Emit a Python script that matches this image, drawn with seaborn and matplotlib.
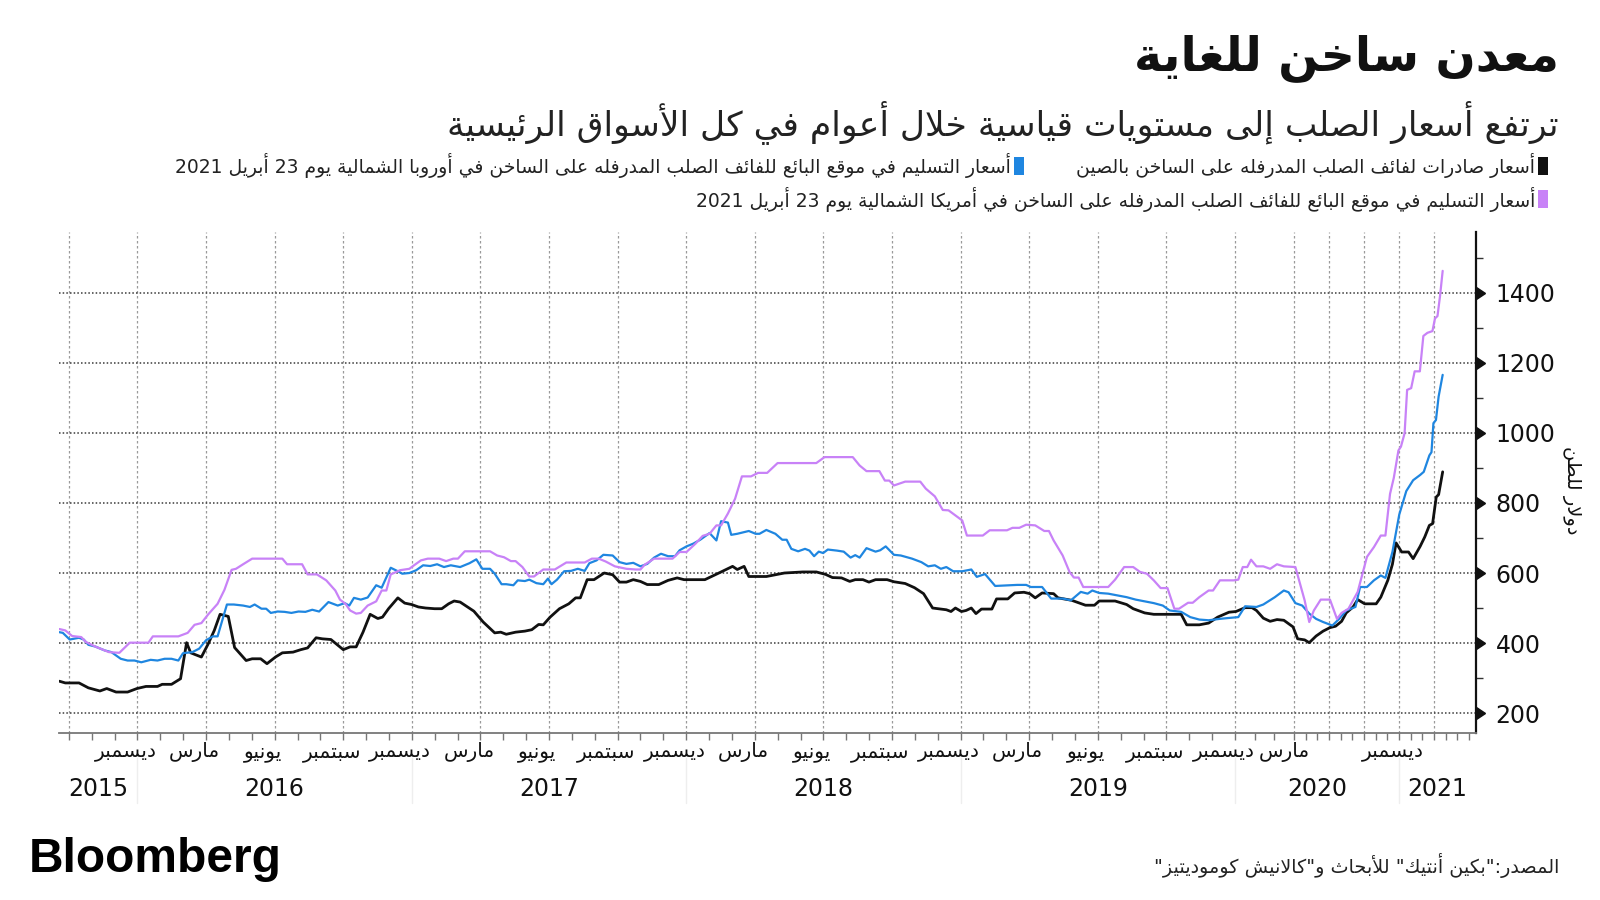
import re
import numpy as np
import matplotlib
matplotlib.use("Agg")
import matplotlib.pyplot as plt
from matplotlib.patches import Rectangle
from matplotlib.ticker import FixedLocator, NullFormatter
import seaborn as sns

# ---------------- data (USD per tonne, x in decimal years) ----------------
black_year = [2015.715, 2015.737, 2015.787, 2015.821, 2015.863, 2015.888, 2015.922, 2015.964, 2015.998, 2016.031,
              2016.073, 2016.090, 2016.124, 2016.157, 2016.179, 2016.194, 2016.233, 2016.258, 2016.280, 2016.301,
              2016.331, 2016.354, 2016.396, 2016.418, 2016.449, 2016.472, 2016.503, 2016.528, 2016.567, 2016.595,
              2016.620, 2016.651, 2016.674, 2016.705, 2016.750, 2016.775, 2016.797, 2016.822, 2016.848, 2016.876,
              2016.893, 2016.915, 2016.949, 2016.974, 2016.999, 2017.024, 2017.050, 2017.083, 2017.109, 2017.134,
              2017.154, 2017.176, 2017.226, 2017.260, 2017.302, 2017.324, 2017.344, 2017.378, 2017.412, 2017.437,
              2017.462, 2017.479, 2017.504, 2017.538, 2017.572, 2017.597, 2017.614, 2017.639, 2017.664, 2017.701,
              2017.732, 2017.757, 2017.782, 2017.807, 2017.833, 2017.858, 2017.900, 2017.934, 2017.967, 2017.992,
              2018.068, 2018.119, 2018.169, 2018.186, 2018.211, 2018.228, 2018.292, 2018.325, 2018.358, 2018.425,
              2018.474, 2018.508, 2018.533, 2018.566, 2018.596, 2018.616, 2018.644, 2018.666, 2018.690, 2018.732,
              2018.757, 2018.798, 2018.832, 2018.865, 2018.898, 2018.948, 2018.965, 2018.981, 2019.003, 2019.020,
              2019.039, 2019.056, 2019.076, 2019.114, 2019.131, 2019.172, 2019.197, 2019.231, 2019.252, 2019.272,
              2019.297, 2019.339, 2019.355, 2019.405, 2019.455, 2019.488, 2019.505, 2019.563, 2019.605, 2019.629,
              2019.671, 2019.704, 2019.804, 2019.824, 2019.870, 2019.904, 2019.937, 2019.978, 2020.004, 2020.043,
              2020.072, 2020.091, 2020.120, 2020.149, 2020.178, 2020.207, 2020.246, 2020.276, 2020.326, 2020.359,
              2020.408, 2020.458, 2020.507, 2020.547, 2020.590, 2020.623, 2020.672, 2020.705, 2020.755, 2020.837,
              2020.870, 2020.920, 2020.953, 2020.979, 2021.019, 2021.068, 2021.101, 2021.151, 2021.184, 2021.217,
              2021.240, 2021.266, 2021.283, 2021.312]
black_usd = [291, 286, 286, 272, 263, 270, 260, 260, 270, 276,
             276, 282, 282, 298, 401, 372, 360, 398, 436, 482,
             476, 387, 350, 355, 355, 341, 360, 372, 374, 381,
             386, 415, 412, 410, 381, 389, 389, 431, 482, 470,
             474, 498, 529, 514, 510, 503, 500, 498, 498, 512,
             520, 517, 491, 460, 429, 431, 425, 431, 434, 438,
             453, 452, 474, 498, 512, 529, 529, 581, 581, 600,
             595, 574, 574, 581, 576, 567, 567, 579, 586, 581,
             581, 600, 619, 610, 619, 590, 590, 595, 600, 603,
             603, 596, 587, 586, 576, 581, 581, 574, 581, 581,
             575, 570, 558, 541, 500, 495, 490, 500, 490, 493,
             500, 484, 497, 497, 526, 526, 543, 545, 541, 529,
             543, 541, 529, 522, 508, 508, 520, 520, 510, 498,
             486, 482, 482, 452, 452, 457, 474, 488, 490, 501,
             501, 493, 471, 462, 467, 465, 446, 412, 409, 401,
             420, 434, 444, 448, 462, 486, 503, 524, 512, 512,
             531, 579, 625, 686, 660, 660, 641, 676, 703, 736,
             741, 817, 824, 889]

blue_year = [2015.715, 2015.728, 2015.753, 2015.787, 2015.804, 2015.821, 2015.846, 2015.880, 2015.905, 2015.939,
             2015.964, 2015.989, 2016.014, 2016.048, 2016.073, 2016.099, 2016.124, 2016.149, 2016.166, 2016.200,
             2016.225, 2016.250, 2016.275, 2016.292, 2016.309, 2016.326, 2016.351, 2016.385, 2016.410, 2016.427,
             2016.452, 2016.469, 2016.486, 2016.511, 2016.536, 2016.561, 2016.587, 2016.612, 2016.637, 2016.662,
             2016.696, 2016.730, 2016.755, 2016.772, 2016.789, 2016.814, 2016.839, 2016.870, 2016.890, 2016.923,
             2016.949, 2016.965, 2016.991, 2017.016, 2017.041, 2017.067, 2017.092, 2017.117, 2017.142, 2017.176,
             2017.210, 2017.235, 2017.257, 2017.285, 2017.302, 2017.327, 2017.344, 2017.370, 2017.386, 2017.412,
             2017.428, 2017.454, 2017.479, 2017.496, 2017.509, 2017.529, 2017.555, 2017.580, 2017.605, 2017.630,
             2017.647, 2017.673, 2017.698, 2017.732, 2017.757, 2017.782, 2017.807, 2017.833, 2017.858, 2017.883,
             2017.908, 2017.934, 2017.959, 2017.976, 2018.001, 2018.026, 2018.051, 2018.085, 2018.110, 2018.127,
             2018.152, 2018.164, 2018.186, 2018.228, 2018.253, 2018.267, 2018.292, 2018.325, 2018.350, 2018.366,
             2018.383, 2018.408, 2018.433, 2018.449, 2018.466, 2018.483, 2018.499, 2018.516, 2018.549, 2018.574,
             2018.599, 2018.616, 2018.632, 2018.657, 2018.690, 2018.707, 2018.727, 2018.757, 2018.782, 2018.823,
             2018.857, 2018.882, 2018.906, 2018.928, 2018.948, 2018.973, 2019.006, 2019.039, 2019.059, 2019.089,
             2019.126, 2019.206, 2019.239, 2019.256, 2019.297, 2019.330, 2019.372, 2019.402, 2019.438, 2019.463,
             2019.480, 2019.505, 2019.538, 2019.571, 2019.605, 2019.638, 2019.671, 2019.704, 2019.737, 2019.762,
             2019.804, 2019.837, 2019.870, 2019.904, 2019.945, 2019.970, 2020.014, 2020.043, 2020.091, 2020.120,
             2020.169, 2020.207, 2020.227, 2020.260, 2020.309, 2020.359, 2020.408, 2020.458, 2020.524, 2020.573,
             2020.623, 2020.689, 2020.722, 2020.771, 2020.821, 2020.870, 2020.903, 2020.953, 2021.002, 2021.052,
             2021.101, 2021.151, 2021.177, 2021.217, 2021.232, 2021.246, 2021.264, 2021.283, 2021.312]
blue_usd = [431, 429, 410, 415, 410, 395, 390, 379, 374, 355,
            350, 350, 345, 352, 350, 355, 355, 350, 371, 374,
            384, 408, 419, 419, 465, 510, 510, 507, 503, 510,
            498, 498, 486, 490, 489, 486, 490, 489, 495, 490,
            517, 507, 514, 507, 529, 524, 530, 565, 558, 615,
            605, 598, 600, 608, 622, 620, 625, 617, 622, 617,
            628, 639, 612, 612, 598, 568, 568, 565, 579, 577,
            581, 571, 568, 584, 568, 581, 605, 606, 612, 606,
            628, 636, 652, 650, 631, 626, 629, 619, 626, 644,
            655, 648, 648, 665, 676, 684, 695, 714, 693, 748,
            744, 709, 712, 720, 712, 712, 723, 712, 695, 695,
            669, 662, 669, 664, 648, 661, 657, 667, 664, 661,
            644, 651, 644, 671, 661, 665, 676, 652, 650, 641,
            631, 619, 622, 612, 617, 605, 605, 610, 589, 597,
            563, 566, 566, 560, 560, 527, 527, 522, 546, 541,
            550, 543, 541, 536, 531, 524, 519, 514, 507, 493,
            489, 474, 467, 465, 469, 471, 474, 505, 503, 510,
            531, 550, 545, 514, 507, 484, 469, 460, 450, 469,
            493, 503, 560, 560, 579, 593, 586, 660, 767, 834,
            865, 880, 889, 936, 945, 1028, 1037, 1104, 1166]

purple_year = [2015.715, 2015.737, 2015.762, 2015.795, 2015.812, 2015.846, 2015.896, 2015.934, 2015.972, 2016.040,
               2016.056, 2016.149, 2016.183, 2016.208, 2016.233, 2016.258, 2016.292, 2016.317, 2016.343, 2016.359,
               2016.385, 2016.418, 2016.528, 2016.545, 2016.600, 2016.620, 2016.654, 2016.688, 2016.721, 2016.738,
               2016.758, 2016.775, 2016.797, 2016.814, 2016.839, 2016.870, 2016.890, 2016.907, 2016.923, 2016.957,
               2016.991, 2017.008, 2017.033, 2017.058, 2017.100, 2017.125, 2017.151, 2017.168, 2017.193, 2017.285,
               2017.311, 2017.336, 2017.361, 2017.378, 2017.403, 2017.428, 2017.445, 2017.479, 2017.521, 2017.563,
               2017.630, 2017.656, 2017.681, 2017.706, 2017.740, 2017.782, 2017.816, 2017.833, 2017.849, 2017.883,
               2017.950, 2017.976, 2018.001, 2018.034, 2018.060, 2018.085, 2018.110, 2018.127, 2018.152, 2018.178,
               2018.203, 2018.236, 2018.262, 2018.295, 2018.333, 2018.474, 2018.504, 2018.607, 2018.632, 2018.657,
               2018.704, 2018.724, 2018.740, 2018.757, 2018.798, 2018.853, 2018.873, 2018.906, 2018.935, 2018.956,
               2019.006, 2019.023, 2019.081, 2019.106, 2019.169, 2019.189, 2019.214, 2019.239, 2019.272, 2019.305,
               2019.322, 2019.339, 2019.372, 2019.397, 2019.413, 2019.430, 2019.447, 2019.538, 2019.563, 2019.596,
               2019.629, 2019.654, 2019.679, 2019.704, 2019.729, 2019.754, 2019.779, 2019.796, 2019.829, 2019.846,
               2019.870, 2019.904, 2019.920, 2019.945, 2019.995, 2020.014, 2020.033, 2020.052, 2020.068, 2020.091,
               2020.120, 2020.149, 2020.178, 2020.207, 2020.260, 2020.293, 2020.326, 2020.359, 2020.392, 2020.441,
               2020.507, 2020.557, 2020.590, 2020.639, 2020.705, 2020.771, 2020.821, 2020.870, 2020.903, 2020.936,
               2020.963, 2020.996, 2021.014, 2021.040, 2021.058, 2021.087, 2021.112, 2021.149, 2021.174, 2021.203,
               2021.239, 2021.257, 2021.275, 2021.293, 2021.312]
purple_usd = [440, 436, 420, 417, 403, 390, 374, 372, 401, 401,
              419, 419, 429, 452, 457, 482, 512, 552, 609, 612,
              625, 641, 641, 625, 625, 596, 596, 579, 550, 524,
              512, 493, 484, 486, 507, 519, 550, 550, 596, 608,
              612, 622, 636, 641, 641, 634, 641, 641, 662, 662,
              650, 645, 634, 634, 617, 590, 590, 610, 610, 630,
              630, 641, 641, 633, 619, 612, 610, 610, 624, 641,
              641, 660, 660, 684, 706, 712, 736, 736, 770, 812,
              876, 876, 886, 886, 914, 914, 931, 931, 907, 891,
              891, 864, 864, 850, 861, 861, 841, 819, 780, 779,
              750, 707, 707, 722, 722, 729, 729, 738, 736, 720,
              720, 693, 650, 603, 587, 587, 560, 560, 581, 617,
              617, 603, 598, 579, 557, 557, 498, 498, 515, 515,
              531, 550, 550, 579, 579, 581, 617, 617, 638, 619,
              619, 612, 625, 619, 617, 570, 522, 460, 493, 524,
              524, 469, 486, 498, 546, 646, 674, 707, 707, 826,
              872, 950, 961, 999, 1123, 1128, 1176, 1176, 1277, 1286,
              1291, 1327, 1334, 1391, 1463]

series_labels = [
    "أسعار صادرات لفائف الصلب المدرفله على الساخن بالصين",
    "أسعار التسليم في موقع البائع للفائف الصلب المدرفله على الساخن في أوروبا الشمالية يوم 23 أبريل 2021",
    "أسعار التسليم في موقع البائع للفائف الصلب المدرفله على الساخن في أمريكا الشمالية يوم 23 أبريل 2021",
]
series_colors = ["#111111", "#1f86e0", "#c882f7"]

y_ticks = [200, 400, 600, 800, 1000, 1200, 1400]
month_label_pos = [2015.958, 2016.208, 2016.458, 2016.708, 2016.958, 2017.208, 2017.458, 2017.708, 2017.958,
                   2018.208, 2018.458, 2018.708, 2018.958, 2019.208, 2019.458, 2019.708, 2019.958, 2020.208, 2020.958]
month_label_txt = ["ديسمبر", "مارس", "يونيو", "سبتمبر", "ديسمبر", "مارس", "يونيو", "سبتمبر", "ديسمبر",
                   "مارس", "يونيو", "سبتمبر", "ديسمبر", "مارس", "يونيو", "سبتمبر", "ديسمبر", "مارس", "ديسمبر"]
year_labels = [2015, 2016, 2017, 2018, 2019, 2020, 2021]

title_txt = "معدن ساخن للغاية"
subtitle_txt = "ترتفع أسعار الصلب إلى مستويات قياسية خلال أعوام في كل الأسواق الرئيسية"
ylabel_txt = "دولار للطن"
source_txt = 'المصدر:"بكين أنتيك" للأبحاث و"كالانيش كوموديتيز"'

# ---------------- minimal Arabic shaping (matplotlib has no RTL shaping) ----------------
FORMS = {
    '\u0621': ('\uFE80', None, None, None), '\u0622': ('\uFE81', '\uFE82', None, None),
    '\u0623': ('\uFE83', '\uFE84', None, None), '\u0624': ('\uFE85', '\uFE86', None, None),
    '\u0625': ('\uFE87', '\uFE88', None, None), '\u0626': ('\uFE89', '\uFE8A', '\uFE8B', '\uFE8C'),
    '\u0627': ('\uFE8D', '\uFE8E', None, None), '\u0628': ('\uFE8F', '\uFE90', '\uFE91', '\uFE92'),
    '\u0629': ('\uFE93', '\uFE94', None, None), '\u062A': ('\uFE95', '\uFE96', '\uFE97', '\uFE98'),
    '\u062B': ('\uFE99', '\uFE9A', '\uFE9B', '\uFE9C'), '\u062C': ('\uFE9D', '\uFE9E', '\uFE9F', '\uFEA0'),
    '\u062D': ('\uFEA1', '\uFEA2', '\uFEA3', '\uFEA4'), '\u062E': ('\uFEA5', '\uFEA6', '\uFEA7', '\uFEA8'),
    '\u062F': ('\uFEA9', '\uFEAA', None, None), '\u0630': ('\uFEAB', '\uFEAC', None, None),
    '\u0631': ('\uFEAD', '\uFEAE', None, None), '\u0632': ('\uFEAF', '\uFEB0', None, None),
    '\u0633': ('\uFEB1', '\uFEB2', '\uFEB3', '\uFEB4'), '\u0634': ('\uFEB5', '\uFEB6', '\uFEB7', '\uFEB8'),
    '\u0635': ('\uFEB9', '\uFEBA', '\uFEBB', '\uFEBC'), '\u0636': ('\uFEBD', '\uFEBE', '\uFEBF', '\uFEC0'),
    '\u0637': ('\uFEC1', '\uFEC2', '\uFEC3', '\uFEC4'), '\u0638': ('\uFEC5', '\uFEC6', '\uFEC7', '\uFEC8'),
    '\u0639': ('\uFEC9', '\uFECA', '\uFECB', '\uFECC'), '\u063A': ('\uFECD', '\uFECE', '\uFECF', '\uFED0'),
    '\u0641': ('\uFED1', '\uFED2', '\uFED3', '\uFED4'), '\u0642': ('\uFED5', '\uFED6', '\uFED7', '\uFED8'),
    '\u0643': ('\uFED9', '\uFEDA', '\uFEDB', '\uFEDC'), '\u0644': ('\uFEDD', '\uFEDE', '\uFEDF', '\uFEE0'),
    '\u0645': ('\uFEE1', '\uFEE2', '\uFEE3', '\uFEE4'), '\u0646': ('\uFEE5', '\uFEE6', '\uFEE7', '\uFEE8'),
    '\u0647': ('\uFEE9', '\uFEEA', '\uFEEB', '\uFEEC'), '\u0648': ('\uFEED', '\uFEEE', None, None),
    '\u0649': ('\uFEEF', '\uFEF0', None, None), '\u064A': ('\uFEF1', '\uFEF2', '\uFEF3', '\uFEF4'),
}
LAM_ALEF = {'\u0622': ('\uFEF5', '\uFEF6'), '\u0623': ('\uFEF7', '\uFEF8'),
            '\u0625': ('\uFEF9', '\uFEFA'), '\u0627': ('\uFEFB', '\uFEFC')}


def _shape(text):
    units, i = [], 0
    while i < len(text):
        c = text[i]
        if c == '\u0644' and i + 1 < len(text) and text[i + 1] in LAM_ALEF:
            units.append(('LA', text[i + 1]))
            i += 2
        else:
            units.append(('C', c))
            i += 1

    def joins_prev(u):
        if u[0] == 'LA':
            return True
        f = FORMS.get(u[1])
        return f is not None and f[1] is not None

    def joins_next(u):
        if u[0] == 'LA':
            return False
        f = FORMS.get(u[1])
        return f is not None and f[2] is not None

    out = []
    for k, u in enumerate(units):
        pj = k > 0 and joins_next(units[k - 1]) and joins_prev(u)
        nj = k + 1 < len(units) and joins_next(u) and joins_prev(units[k + 1])
        if u[0] == 'LA':
            iso, fin = LAM_ALEF[u[1]]
            out.append(fin if pj else iso)
            continue
        f = FORMS.get(u[1])
        if f is None:
            out.append(u[1])
        elif pj and nj:
            out.append(f[3])
        elif pj:
            out.append(f[1])
        elif nj:
            out.append(f[2])
        else:
            out.append(f[0])
    return ''.join(out)


def ar(text):
    rev = _shape(text)[::-1]
    return re.sub(r'[0-9A-Za-z]+', lambda m: m.group(0)[::-1], rev)


# ---------------- figure ----------------
sns.set_style("white")
plt.rcParams['font.family'] = ['DejaVu Sans']

fig = plt.figure(figsize=(16, 9), dpi=100)
fig.patch.set_facecolor("white")
ax = fig.add_axes([59 / 1600, 1 - 733 / 900, (1476 - 59) / 1600, (733 - 232) / 900])

for yr, val, col in zip([black_year, blue_year, purple_year], [black_usd, blue_usd, purple_usd], series_colors):
    sns.lineplot(x=yr, y=val, ax=ax, color=col, lw=2.0 if col == "#111111" else 1.6,
                 estimator=None, sort=False, zorder=3)

# irregular time axis used by the original chart (last year compressed)
BRK_YEAR = np.array([2015.0, 2020.0, 2020.25, 2022.0])
BRK_POS = np.array([-136.8, 1235.0, 1294.0, 1539.0])


def fwd(v):
    return np.interp(v, BRK_YEAR, BRK_POS)


def inv(p):
    return np.interp(p, BRK_POS, BRK_YEAR)


ax.set_xscale('function', functions=(fwd, inv))
x_lo, x_hi = 2015.714, 2021.55
ax.set_xlim(x_lo, x_hi)
ax.set_ylim(143, 1574)

quarters = [2015.75 + 0.25 * k for k in range(23)]
months = [2015.75 + k / 12 for k in range(70)]
ax.xaxis.set_major_locator(FixedLocator(quarters))
ax.xaxis.set_minor_locator(FixedLocator(months))
ax.xaxis.set_major_formatter(NullFormatter())
ax.xaxis.set_minor_formatter(NullFormatter())
ax.tick_params(axis='x', which='both', direction='out', length=5, width=1, color='#777777', bottom=True)

ax.yaxis.tick_right()
ax.yaxis.set_major_locator(FixedLocator(y_ticks))
ax.yaxis.set_minor_locator(FixedLocator([300, 500, 700, 900, 1100, 1300, 1500]))
ax.tick_params(axis='y', which='major', length=0, pad=14, labelsize=17, labelcolor='#111111')
ax.tick_params(axis='y', which='minor', length=5, width=1, color='#333333', right=True, direction='out')
ax.set_yticklabels([str(v) for v in y_ticks])
ax.plot([1.0] * len(y_ticks), y_ticks, ls='none', marker=9, ms=9, color='#111111',
        transform=ax.get_yaxis_transform(), clip_on=False, zorder=5)

ax.grid(axis='x', which='major', ls=(0, (2, 2)), color='#9a9a9a', lw=0.9)
ax.grid(axis='y', which='major', ls=(0, (1, 1.4)), color='#3a3a3a', lw=1.1)
ax.grid(axis='x', which='minor', visible=False)
ax.set_axisbelow(True)

for s in ['left', 'top']:
    ax.spines[s].set_visible(False)
ax.spines['right'].set_color('#111111')
ax.spines['right'].set_linewidth(1.6)
ax.spines['bottom'].set_color('#777777')
ax.spines['bottom'].set_linewidth(1.3)
ax.set_xlabel("")
ax.set_ylabel("")

xt = ax.get_xaxis_transform()
for pos, name in zip(month_label_pos, month_label_txt):
    ax.text(pos, -0.038, ar(name), transform=xt, ha='center', va='center', fontsize=14.5, color='#111111',
            clip_on=False)

for y in year_labels:
    a, b = max(y, x_lo), min(y + 1, x_hi)
    c = inv((fwd(a) + fwd(b)) / 2)
    ax.text(c, -0.112, str(y), transform=xt, ha='center', va='center', fontsize=17, color='#111111',
            clip_on=False)
    if y > 2015:
        ax.plot([y, y], [-0.05, -0.14], transform=xt, color='#eeeeee', lw=1.0, clip_on=False)

fig.text(1571 / 1600, 1 - 490 / 900, ar(ylabel_txt), rotation=270, ha='center', va='center',
         fontsize=14, color='#111111')

# titles
fig.text(1559 / 1600, 1 - 58 / 900, ar(title_txt), ha='right', va='center', fontsize=34,
         fontweight='bold', color='#111111')
fig.text(1559 / 1600, 1 - 122 / 900, ar(subtitle_txt), ha='right', va='center', fontsize=24.8,
         color='#222222')

# legend
legend_rows = [(1548, 166), (1024, 166), (1548, 199)]
for (sx, sy), lab, col in zip(legend_rows, series_labels, series_colors):
    fig.patches.append(Rectangle(((sx - 10) / 1600, 1 - (sy + 9) / 900), 10 / 1600, 18 / 900,
                                 transform=fig.transFigure, facecolor=col, edgecolor='none'))
    fig.text((sx - 13) / 1600, 1 - sy / 900, ar(lab), ha='right', va='center', fontsize=13.5,
             color='#222222')

fig.text(29 / 1600, 1 - 860 / 900, "Bloomberg", ha='left', va='center', fontsize=34.5,
         fontweight='bold', family=['Liberation Sans', 'DejaVu Sans'], color='#000000')
fig.text(1559 / 1600, 1 - 866 / 900, ar(source_txt), ha='right', va='center', fontsize=13.8,
         color='#222222')

fig.savefig("out.png", dpi=100, facecolor="white")
